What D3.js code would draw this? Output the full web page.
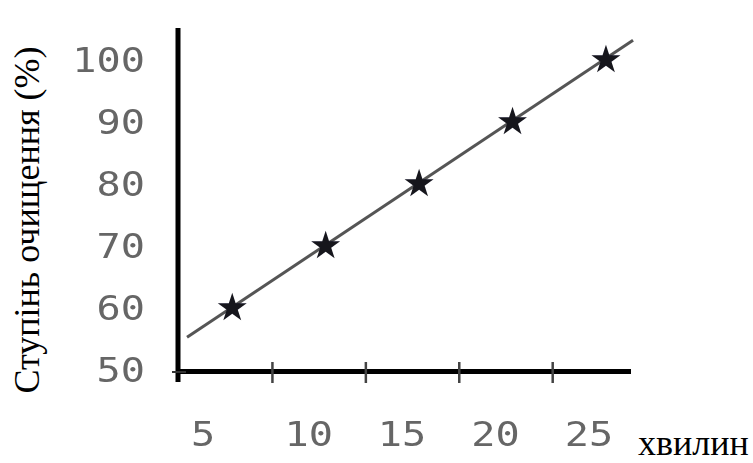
<!DOCTYPE html>
<html><head><meta charset="utf-8">
<script src="https://cdn.jsdelivr.net/npm/d3@7"></script>
<style>body{margin:0;background:#fff}</style>
</head><body>
<script>
const xTickLabels = [5, 10, 15, 20, 25];
const yTickLabels = [50, 60, 70, 80, 90, 100];
const minutes = [7.85, 12.85, 17.85, 22.85, 27.85];
const purity = [60, 70, 80, 90, 100];
const trendX = [5.43, 29.3];
const trendY = [55.3, 103.2];

const W = 753, H = 463;
const svg = d3.select("body").append("svg").attr("width", W).attr("height", H);
const defs = svg.append("defs");
defs.append("filter").attr("id", "soft").append("feGaussianBlur").attr("stdDeviation", 0.7);
defs.append("filter").attr("id", "soft2").append("feGaussianBlur").attr("stdDeviation", 0.45);

const x = d3.scaleLinear().domain([5, 25]).range([179, 552.7]);
const y = d3.scaleLinear().domain([50, 100]).range([370, 60]);

// axes lines
svg.append("line").attr("x1", 178).attr("x2", 178).attr("y1", 28).attr("y2", 382)
  .attr("stroke", "#000").attr("stroke-width", 5);
svg.append("line").attr("x1", 176).attr("x2", 631).attr("y1", 371.5).attr("y2", 371.5)
  .attr("stroke", "#000").attr("stroke-width", 5);
// origin tick
svg.append("line").attr("x1", 172).attr("x2", 186).attr("y1", 372).attr("y2", 372)
  .attr("stroke", "#333").attr("stroke-width", 2);

// tick marks on x axis (excluding origin)
svg.selectAll(".tk").data(xTickLabels.slice(1)).enter().append("line")
  .attr("x1", d => x(d)).attr("x2", d => x(d))
  .attr("y1", 362).attr("y2", 383)
  .attr("stroke", "#444").attr("stroke-width", 2.5);

// tick labels
const lblFont = "'DejaVu Sans Mono', monospace";
const lbl = svg.append("g").attr("filter", "url(#soft2)");
lbl.selectAll(".xl").data(xTickLabels).enter().append("text")
  .attr("transform", d => `translate(${x(d) + 12},434) scale(1.22,1)`).attr("dy", "0.36em")
  .attr("text-anchor", "start").attr("font-family", lblFont)
  .attr("font-size", 33).attr("fill", "#666").text(d => d);
lbl.selectAll(".yl").data(yTickLabels).enter().append("text")
  .attr("transform", d => `translate(145,${y(d)}) scale(1.22,1)`).attr("dy", "0.36em")
  .attr("text-anchor", "end").attr("font-family", lblFont)
  .attr("font-size", 33).attr("fill", "#666").text(d => d);

// trend line
svg.append("line")
  .attr("x1", x(trendX[0])).attr("y1", y(trendY[0]))
  .attr("x2", x(trendX[1])).attr("y2", y(trendY[1]))
  .attr("stroke", "#555").attr("stroke-width", 3);

// stars
const star = d3.symbol().type(d3.symbolStar).size(260);
svg.selectAll(".st").data(minutes.map((m, i) => [m, purity[i]])).enter().append("path")
  .attr("d", star)
  .attr("transform", d => `translate(${x(d[0])},${y(d[1])})`)
  .attr("fill", "#15151f").attr("filter", "url(#soft)");

// axis titles
svg.append("text").attr("transform", "translate(39,220) rotate(-90)")
  .attr("text-anchor", "middle").attr("font-family", "'Liberation Serif', serif")
  .attr("font-size", 36).attr("fill", "#000").text("Ступінь очищення (%)");
svg.append("text").attr("x", 638).attr("y", 455)
  .attr("font-family", "'Liberation Serif', serif")
  .attr("font-size", 36).attr("fill", "#000").text("хвилин");
</script>
</body></html>
